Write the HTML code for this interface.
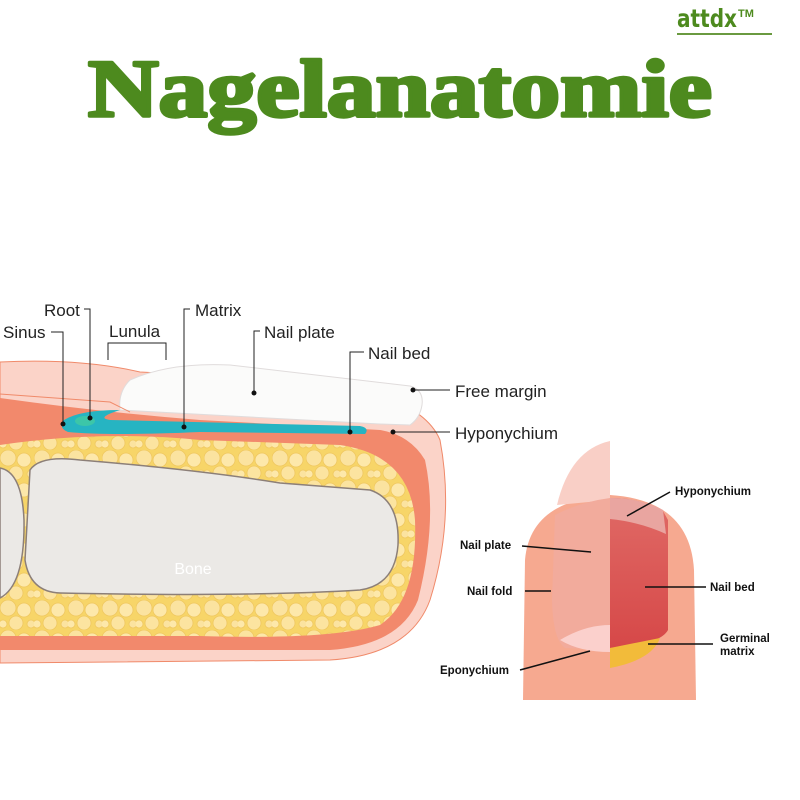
<!DOCTYPE html>
<html><head><meta charset="utf-8"><style>
html,body{margin:0;padding:0;background:#fff}
svg{display:block}
</style></head><body>
<svg width="800" height="800" viewBox="0 0 800 800" xmlns="http://www.w3.org/2000/svg" font-family="Liberation Sans, sans-serif">
<defs>
<pattern id="fat" width="34" height="30" patternUnits="userSpaceOnUse">
<rect width="34" height="30" fill="#f7d568"/>
<circle cx="8" cy="8" r="8" fill="#fbe3a0" stroke="#f0c860" stroke-width="0.8"/>
<circle cx="24" cy="10" r="7" fill="#fde8aa" stroke="#f0c860" stroke-width="0.8"/>
<circle cx="16" cy="23" r="7" fill="#fce4a0" stroke="#f0c860" stroke-width="0.8"/>
<circle cx="31" cy="24" r="4" fill="#fbe3a0" stroke="#f0c860" stroke-width="0.8"/>
<circle cx="3" cy="24" r="4" fill="#fde8aa" stroke="#f0c860" stroke-width="0.8"/>
</pattern>
<linearGradient id="redg" x1="0" y1="0" x2="0" y2="1"><stop offset="0" stop-color="#e06a66"/><stop offset="1" stop-color="#d64848"/></linearGradient>
</defs>

<!-- logo -->
<text x="677" y="27" font-size="25" font-weight="bold" fill="#4d8a1e" font-family="DejaVu Sans, sans-serif" textLength="60" lengthAdjust="spacingAndGlyphs">attdx</text>
<text x="738" y="17" font-size="11" font-weight="bold" fill="#4d8a1e">TM</text>
<rect x="677" y="33" width="95" height="2" fill="#6a9a40"/>
<!-- title -->
<text x="88" y="116" font-size="82" font-weight="bold" fill="#4d8a1e" stroke="#4d8a1e" stroke-width="3.5" stroke-linejoin="round" font-family="Liberation Serif, serif" textLength="624" lengthAdjust="spacingAndGlyphs">Nagelanatomie</text>

<!-- LEFT DIAGRAM -->
<path d="M0,362 Q80,358 140,372 L300,380 Q420,392 440,440 Q455,520 430,600 Q410,655 330,660 L0,663 Z" fill="#fbd3c8" stroke="#f08a6a" stroke-width="1"/>
<path d="M0,398 L0,650 L330,650 Q400,645 418,600 Q438,520 425,460 Q410,435 380,430 L200,420 Q100,412 0,398 Z" fill="#f2896c"/>
<path d="M0,445 Q100,430 200,440 L340,445 Q410,455 415,520 Q418,600 380,625 Q330,640 200,636 L0,636 Z" fill="url(#fat)"/>
<path d="M30,470 Q40,455 80,460 Q200,470 280,483 L370,490 Q400,500 398,545 Q395,585 360,590 Q250,597 60,593 Q30,592 25,560 Z" fill="#ebe9e6" stroke="#8c7f78" stroke-width="1.5"/>
<path d="M0,468 Q22,472 24,520 Q25,585 0,598 Z" fill="#ebe9e6" stroke="#8c7f78" stroke-width="1.5"/>
<text x="193" y="574" font-size="16" fill="#fff" text-anchor="middle">Bone</text>
<path d="M130,380 Q170,362 230,365 L410,386 Q424,390 422,405 Q420,418 410,425 L380,424 L120,410 Q118,392 130,380 Z" fill="#fbfbfa" stroke="#e0dcdc" stroke-width="1"/>
<path d="M0,394 L110,402 L130,412" fill="none" stroke="#f08a6a" stroke-width="1"/>
<path d="M120,410 Q80,410 64,420 Q58,428 68,432 Q110,436 200,432 L365,434 Q370,428 360,426 L110,420 Q95,418 120,410 Z" fill="#26b4c2"/>
<ellipse cx="85" cy="421" rx="10" ry="5" fill="#3cc6a8"/>

<g stroke="#222" stroke-width="1" fill="none">
<path d="M51,332 H63 V424"/>
<path d="M84,309 H90 V418"/>
<path d="M108,360 V343 H166 V360"/>
<path d="M190,309 H184 V427"/>
<path d="M260,331 H254 V393"/>
<path d="M364,352 H350 V432"/>
<path d="M413,390 H450"/>
<path d="M393,432 H450"/>
</g>
<g fill="#111">
<circle cx="63" cy="424" r="2.5"/><circle cx="90" cy="418" r="2.5"/><circle cx="184" cy="427" r="2.5"/>
<circle cx="254" cy="393" r="2.5"/><circle cx="350" cy="432" r="2.5"/><circle cx="413" cy="390" r="2.5"/><circle cx="393" cy="432" r="2.5"/>
</g>
<g font-size="17" fill="#222">
<text x="44" y="316">Root</text>
<text x="3" y="338">Sinus</text>
<text x="109" y="337">Lunula</text>
<text x="195" y="316">Matrix</text>
<text x="264" y="338">Nail plate</text>
<text x="368" y="359">Nail bed</text>
<text x="455" y="397">Free margin</text>
<text x="455" y="439">Hyponychium</text>
</g>

<!-- RIGHT DIAGRAM -->
<path d="M523,700 L525,560 Q530,500 610,495 Q690,500 694,570 L696,700 Z" fill="#f6a990"/>
<path d="M557,505 Q570,450 610,441 L610,500 Z" fill="#f9cfc6"/>
<path d="M555,515 Q580,502 610,498 L610,650 L565,648 Q553,640 552,600 Z" fill="#f2ab9c"/>
<path d="M560,640 Q585,625 610,625 L610,652 Q580,652 560,640 Z" fill="#fbd0cc"/>
<path d="M610,498 Q640,498 663,511 L668,520 L668,630 Q660,645 610,648 Z" fill="url(#redg)"/>
<path d="M610,498 Q640,498 663,510 L666,534 Q640,522 610,519 Z" fill="#e9a5a0"/>
<path d="M610,648 L660,638 Q652,660 610,668 Z" fill="#f2bb3a"/>
<g stroke="#111" stroke-width="1.5">
<line x1="522" y1="546" x2="591" y2="552"/>
<line x1="525" y1="591" x2="551" y2="591"/>
<line x1="627" y1="516" x2="670" y2="492"/>
<line x1="645" y1="587" x2="706" y2="587"/>
<line x1="648" y1="644" x2="713" y2="644"/>
<line x1="520" y1="670" x2="590" y2="651"/>
</g>
<g font-size="11.5" fill="#111" font-weight="bold">
<text x="460" y="549">Nail plate</text>
<text x="467" y="595">Nail fold</text>
<text x="675" y="495">Hyponychium</text>
<text x="710" y="591">Nail bed</text>
<text x="720" y="642">Germinal</text>
<text x="720" y="655">matrix</text>
<text x="440" y="674">Eponychium</text>
</g>
</svg>
</body></html>
